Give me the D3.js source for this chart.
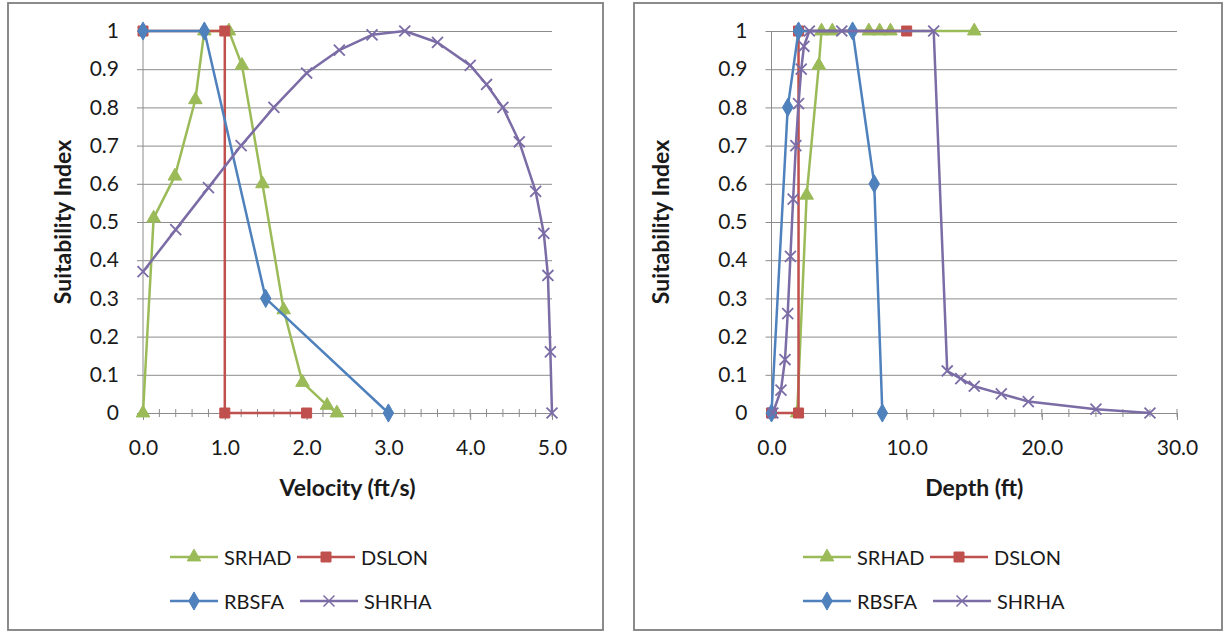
<!DOCTYPE html>
<html>
<head>
<meta charset="utf-8">
<script src="https://cdn.jsdelivr.net/npm/d3@7"></script>
<style>
  html, body { margin: 0; padding: 0; background: #fff; }
  svg { display: block; }
  text { font-family: Lato, "Open Sans", sans-serif; fill: #1a1a1a; }
</style>
</head>
<body>
<svg id="chart" width="1225" height="636"></svg>
<script>
// ---------- DATA ----------
const seriesNames = ["SRHAD", "DSLON", "RBSFA", "SHRHA"];
const yTicks = [0, 0.1, 0.2, 0.3, 0.4, 0.5, 0.6, 0.7, 0.8, 0.9, 1];

// Velocity chart
const velTicks = [0, 1, 2, 3, 4, 5];
const velSRHAD_x = [0, 0.13, 0.39, 0.64, 0.75, 1.05, 1.21, 1.46, 1.72, 1.95, 2.25, 2.37];
const velSRHAD_y = [0, 0.51, 0.62, 0.82, 1.0, 1.0, 0.91, 0.6, 0.27, 0.08, 0.02, 0];
const velDSLON_x = [0, 1, 1, 2];
const velDSLON_y = [1, 1, 0, 0];
const velRBSFA_x = [0, 0.75, 1.5, 3.0];
const velRBSFA_y = [1, 1, 0.3, 0];
const velSHRHA_x = [0, 0.4, 0.8, 1.2, 1.6, 2.0, 2.4, 2.8, 3.2, 3.6, 4.0, 4.2, 4.4, 4.6, 4.8, 4.9, 4.95, 4.98, 5.0];
const velSHRHA_y = [0.37, 0.48, 0.59, 0.7, 0.8, 0.89, 0.95, 0.99, 1.0, 0.97, 0.91, 0.86, 0.8, 0.71, 0.58, 0.47, 0.36, 0.16, 0];

// Depth chart
const depTicks = [0, 10, 20, 30];
const depSRHAD_x = [1.9, 2.6, 3.5, 3.7, 4.5, 7.2, 8.0, 8.8, 15];
const depSRHAD_y = [0, 0.57, 0.91, 1, 1, 1, 1, 1, 1];
const depDSLON_x = [0, 2, 2, 10];
const depDSLON_y = [0, 0, 1, 1];
const depRBSFA_x = [0, 1.2, 2, 6, 7.6, 8.2];
const depRBSFA_y = [0, 0.8, 1, 1, 0.6, 0];
const depSHRHA_x = [0.1, 0.7, 1.0, 1.2, 1.4, 1.6, 1.8, 2.0, 2.2, 2.4, 2.8, 5.2, 12, 13, 14, 15, 17, 19, 24, 28];
const depSHRHA_y = [0, 0.06, 0.14, 0.26, 0.41, 0.56, 0.70, 0.81, 0.90, 0.96, 1, 1, 1, 0.11, 0.09, 0.07, 0.05, 0.03, 0.01, 0];

// ---------- STYLE ----------
const colors = { SRHAD: "#9BBB59", DSLON: "#C0504D", RBSFA: "#4F81BD", SHRHA: "#7B6CA6" };
const symbolX = {
  draw(ctx, size) {
    const r = Math.sqrt(size) / 2;
    ctx.moveTo(-r, -r); ctx.lineTo(r, r);
    ctx.moveTo(r, -r); ctx.lineTo(-r, r);
  }
};
const symbols = { SRHAD: d3.symbolTriangle, DSLON: d3.symbolSquare, RBSFA: d3.symbolDiamond, SHRHA: symbolX };
const symSizes = { SRHAD: 80, DSLON: 100, RBSFA: 95, SHRHA: 120 };

const svg = d3.select("#chart");

function drawChart(cfg) {
  const g = svg.append("g");
  // frame
  g.append("rect").attr("x", cfg.frame[0]).attr("y", cfg.frame[1])
    .attr("width", cfg.frame[2]).attr("height", cfg.frame[3])
    .attr("fill", "#fff").attr("stroke", "#7f7f7f").attr("stroke-width", 1.8);

  const x = d3.scaleLinear().domain(cfg.xDomain).range([cfg.plot.left, cfg.plot.right]);
  const y = d3.scaleLinear().domain([0, 1]).range([cfg.plot.bottom, cfg.plot.top]);

  // gridlines + y axis
  const yAxis = d3.axisLeft(y).tickValues(yTicks)
    .tickSize(-(cfg.plot.right - cfg.plot.left))
    .tickFormat(d => d === 0 || d === 1 ? d3.format("d")(d) : d3.format(".1f")(d))
    .tickPadding(24);
  const ya = g.append("g").attr("transform", `translate(${cfg.plot.left},0)`).call(yAxis);
  ya.select(".domain").remove();
  ya.selectAll(".tick line").attr("stroke", "#8c8c8c").attr("x1", -6);
  ya.selectAll(".tick text").attr("font-family", "Lato, sans-serif").attr("font-size", 21).attr("fill", "#1a1a1a");
  // y axis line
  g.append("line").attr("x1", cfg.plot.left).attr("x2", cfg.plot.left)
    .attr("y1", y(0)).attr("y2", y(1)).attr("stroke", "#8c8c8c");

  // x axis
  const xa = g.append("g").attr("transform", `translate(0,${y(0)})`)
    .call(d3.axisBottom(x).tickValues(cfg.xTicks).tickSize(7).tickPadding(20).tickFormat(d3.format(".1f")));
  xa.select(".domain").attr("stroke", "#8c8c8c");
  xa.selectAll(".tick line").attr("stroke", "#8c8c8c");
  xa.selectAll(".tick text").attr("font-family", "Lato, sans-serif").attr("font-size", 21).attr("fill", "#1a1a1a");
  // minor cross ticks
  const minor = d3.range(cfg.xDomain[0], cfg.xDomain[1] + 1e-9, cfg.minorStep);
  xa.selectAll(".minor").data(minor).join("line").attr("class", "minor")
    .attr("x1", d => x(d)).attr("x2", d => x(d)).attr("y1", -4).attr("y2", 4)
    .attr("stroke", "#8c8c8c");

  // axis titles
  g.append("text").attr("transform", `translate(${cfg.yTitleX},${(y(0) + y(1)) / 2}) rotate(-90)`)
    .attr("text-anchor", "middle").attr("dominant-baseline", "central")
    .attr("font-weight", "bold").attr("font-size", 23).text("Suitability Index");
  g.append("text").attr("x", (cfg.plot.left + cfg.plot.right) / 2).attr("y", 487)
    .attr("text-anchor", "middle").attr("dominant-baseline", "central")
    .attr("font-weight", "bold").attr("font-size", 23).text(cfg.xTitle);

  // series
  const line = d3.line().x(d => x(d[0])).y(d => y(d[1]));
  cfg.series.forEach(s => {
    const pts = s.xs.map((v, i) => [v, s.ys[i]]);
    g.append("path").datum(pts).attr("d", line).attr("fill", "none")
      .attr("stroke", colors[s.name]).attr("stroke-width", 2.5).attr("stroke-linejoin", "round");
    const sym = d3.symbol().type(symbols[s.name]).size(symSizes[s.name]);
    g.selectAll(null).data(pts).join("path")
      .attr("transform", d => `translate(${x(d[0])},${y(d[1])})`)
      .attr("d", sym())
      .attr("fill", s.name === "SHRHA" ? "none" : colors[s.name])
      .attr("stroke", colors[s.name]).attr("stroke-width", s.name === "SHRHA" ? 1.8 : 1);
  });

  // legend
  const L = cfg.legendX;
  const items = [
    { name: "SRHAD", x0: L, row: 0 }, { name: "DSLON", x0: L + 127, row: 0 },
    { name: "RBSFA", x0: L, row: 1 }, { name: "SHRHA", x0: L + 130, row: 1 }
  ];
  const rowsY = [557, 601];
  items.forEach(it => {
    const yy = rowsY[it.row];
    const len = it.name === "DSLON" || it.name === "SHRHA" ? 58 : 48;
    g.append("line").attr("x1", it.x0).attr("x2", it.x0 + len).attr("y1", yy).attr("y2", yy)
      .attr("stroke", colors[it.name]).attr("stroke-width", 2.5);
    const sym = d3.symbol().type(symbols[it.name]).size(symSizes[it.name]);
    g.append("path").attr("transform", `translate(${it.x0 + len / 2},${yy})`).attr("d", sym())
      .attr("fill", it.name === "SHRHA" ? "none" : colors[it.name])
      .attr("stroke", colors[it.name]).attr("stroke-width", it.name === "SHRHA" ? 1.5 : 1);
    g.append("text").attr("x", it.x0 + len + 6).attr("y", yy).attr("dominant-baseline", "central")
      .attr("font-size", 20).text(it.name);
  });
}

drawChart({
  frame: [8, 3, 595, 627],
  plot: { left: 143, right: 552, top: 31, bottom: 413 },
  xDomain: [0, 5], xTicks: velTicks, minorStep: 0.2,
  yTitleX: 62, xTitle: "Velocity (ft/s)", legendX: 170,
  series: [
    { name: "SRHAD", xs: velSRHAD_x, ys: velSRHAD_y },
    { name: "DSLON", xs: velDSLON_x, ys: velDSLON_y },
    { name: "RBSFA", xs: velRBSFA_x, ys: velRBSFA_y },
    { name: "SHRHA", xs: velSHRHA_x, ys: velSHRHA_y }
  ]
});

drawChart({
  frame: [634, 3, 588, 627],
  plot: { left: 771.5, right: 1177, top: 31, bottom: 413 },
  xDomain: [0, 30], xTicks: depTicks, minorStep: 2,
  yTitleX: 660, xTitle: "Depth (ft)", legendX: 803,
  series: [
    { name: "SRHAD", xs: depSRHAD_x, ys: depSRHAD_y },
    { name: "DSLON", xs: depDSLON_x, ys: depDSLON_y },
    { name: "RBSFA", xs: depRBSFA_x, ys: depRBSFA_y },
    { name: "SHRHA", xs: depSHRHA_x, ys: depSHRHA_y }
  ]
});
</script>
</body>
</html>
